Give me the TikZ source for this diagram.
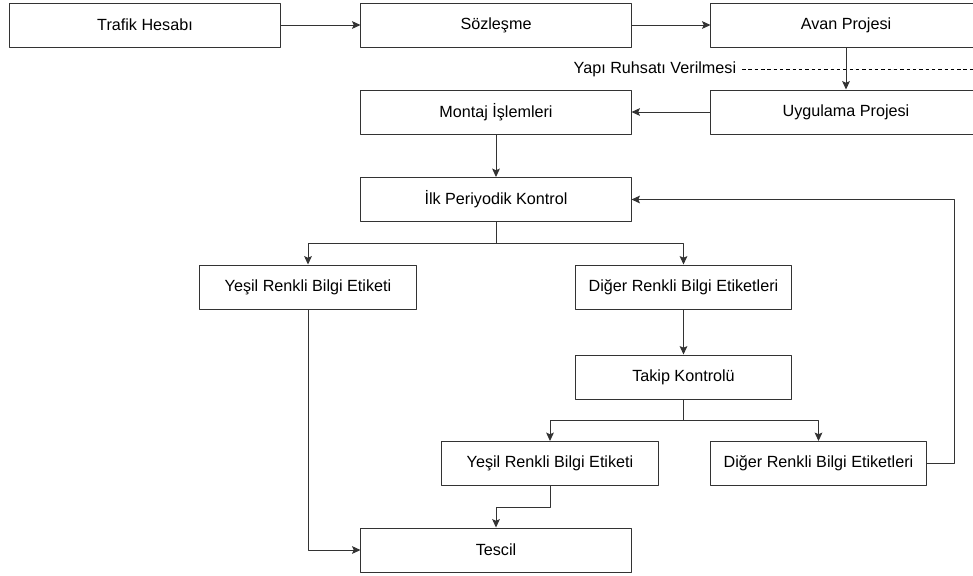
\documentclass[tikz,border=0pt]{standalone}
\usepackage{fontspec}
\setmainfont{Liberation Sans}
\usetikzlibrary{arrows.meta}
\tikzset{
	kutu/.style={draw=black!80, line width=0.7pt, minimum height=1.1cm, inner sep=2pt},
	genis/.style={kutu, minimum width=6.75cm},
	dar/.style={kutu, minimum width=5.4cm},
	ok/.style={->, line width=0.7pt, draw=black!80}
}
\begin{document}
\begin{tikzpicture}[x=0.025cm, y=-0.025cm, font=\fontsize{11.5}{14}\selectfont, line join=round, >={Stealth[length=6pt,width=5.5pt,inset=1.2pt]}]
		\useasboundingbox (0,0) rectangle (973,575);
		\clip (0,0) rectangle (973,575);
		% ust satirlar
		\node[genis] (trafik) at (145,25) {Trafik Hesabı};
		\node[genis] (sozlesme) at (496,25) {Sözleşme};
		\node[genis] (avan) at (846,25) {Avan Projesi};
		\node[genis] (uygulama) at (846,112) {Uygulama Projesi};
		\node[genis] (montaj) at (496,112) {Montaj İşlemleri};
		\node[genis] (ilk) at (496,199.5) {İlk Periyodik Kontrol};
		% kontrol dallari
		\node[dar] (yesilA) at (308,287) {Yeşil Renkli Bilgi Etiketi};
		\node[dar] (digerA) at (683.5,287) {Diğer Renkli Bilgi Etiketleri};
		\node[dar] (takip) at (683.5,377) {Takip Kontrolü};
		\node[dar] (yesilB) at (550,463.5) {Yeşil Renkli Bilgi Etiketi};
		\node[dar] (digerB) at (818.5,463.5) {Diğer Renkli Bilgi Etiketleri};
		\node[genis] (tescil) at (496,550) {Tescil};
		% yapi ruhsati
		\coordinate (ruhsatA) at (742,69);
		\coordinate (ruhsatB) at (973,69);
		\draw[dash pattern=on 2.5pt off 2pt, line width=0.7pt] (ruhsatA)--(ruhsatB);
		\node[left, inner sep=4pt] (ruhsat) at (ruhsatA) {Yapı Ruhsatı Verilmesi};
		% oklar
		\draw[ok] (trafik)--(sozlesme);
		\draw[ok] (sozlesme)--(avan);
		\draw[ok] (avan)--(uygulama);
		\draw[ok] (uygulama)--(montaj);
		\draw[ok] (montaj)--(ilk);
		\draw[ok] (ilk.south)--++(0,21)-|(yesilA.north);
		\draw[ok] (ilk.south)--++(0,21)-|(digerA.north);
		\draw[ok] (digerA)--(takip);
		\draw[ok] (takip.south)--++(0,21)-|(yesilB.north);
		\draw[ok] (takip.south)--++(0,21)-|(digerB.north);
		\draw[ok] (digerB.east)--++(27,0)|-(ilk.east);
		\draw[ok] (yesilA.south)|-(tescil.west);
		\draw[ok] (yesilB.south)--++(0,21)-|(tescil.north);
		\end{tikzpicture}
\end{document}
